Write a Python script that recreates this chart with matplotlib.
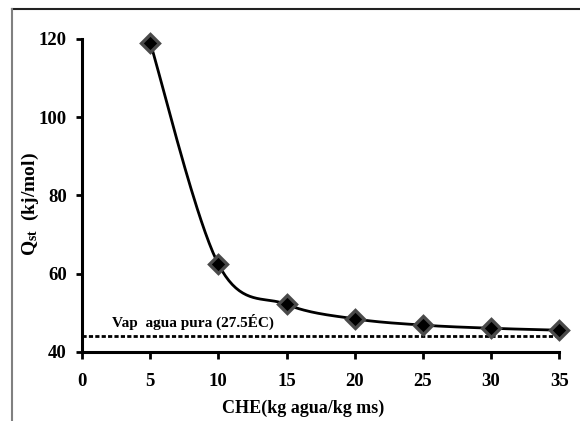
import matplotlib
matplotlib.use("Agg")
import matplotlib.pyplot as plt
from matplotlib.lines import Line2D
import numpy as np

# isosteric heat vs equilibrium moisture content
che = [5, 10, 15, 20, 25, 30, 35]
qst = [119.1, 62.4, 52.1, 48.4, 46.8, 46.0, 45.5]
vap_agua = 44.1  # pure water vaporization heat (27.5 C)

x_ticks = [0, 5, 10, 15, 20, 25, 30, 35]
y_ticks = [40, 60, 80, 100, 120]

plt.rcParams['font.family'] = 'Liberation Serif'
plt.rcParams['font.weight'] = 'bold'
plt.rcParams['mathtext.fontset'] = 'custom'
plt.rcParams['mathtext.rm'] = 'Liberation Serif:bold'
plt.rcParams['mathtext.it'] = 'Liberation Serif:bold'
plt.rcParams['mathtext.bf'] = 'Liberation Serif:bold'


def smooth_curve(xs, ys, sx, sy, n=40):
    # bezier smoothing through the points (control points at 1/6 of neighbour span)
    p = np.column_stack([np.array(xs) * sx, np.array(ys) * sy])
    out = []
    for i in range(len(p) - 1):
        p0 = p[max(i - 1, 0)]
        p1 = p[i]
        p2 = p[i + 1]
        p3 = p[min(i + 2, len(p) - 1)]
        c1 = p1 + (p2 - p0) / 6.0
        c2 = p2 - (p3 - p1) / 6.0
        t = np.linspace(0, 1, n)[:, None]
        seg = ((1 - t) ** 3) * p1 + 3 * ((1 - t) ** 2) * t * c1 + 3 * (1 - t) * t ** 2 * c2 + t ** 3 * p2
        out.append(seg)
    out = np.vstack(out)
    return out[:, 0] / sx, out[:, 1] / sy


fig = plt.figure(figsize=(5.8, 4.21), dpi=100)
ax = fig.add_axes([0.1414, 0.1646, 0.8228, 0.7428])

# frame lines around the figure (top and left only)
fig.add_artist(Line2D([12 / 580, 1.0], [1 - 9 / 421, 1 - 9 / 421], color='#222222', lw=1.5))
fig.add_artist(Line2D([12 / 580, 12 / 580], [0, 1 - 9 / 421], color='#808080', lw=1.5))

sx = 477 / 35.0
sy = 312.7 / 80.0
cx, cy = smooth_curve(che, qst, sx, sy)
ax.plot(cx, cy, color='black', lw=2, zorder=3, clip_on=False)
ax.plot(che, qst, linestyle='none', marker='D', markersize=9,
        markerfacecolor='black', markeredgecolor='#4a4a4a', markeredgewidth=2.4,
        zorder=4, clip_on=False)

ax.axhline(vap_agua, color='black', lw=2, dashes=(1.5, 0.8), zorder=2)
ax.text(2.2, 47.7, 'Vap  agua pura (27.5ÉC)', fontsize=11, fontweight='bold',
        va='center', ha='left')

ax.set_xlim(0, 35)
ax.set_ylim(40, 120)
ax.set_xticks(x_ticks)
ax.set_yticks(y_ticks)

for side in ['top', 'right']:
    ax.spines[side].set_visible(False)
for side in ['left', 'bottom']:
    ax.spines[side].set_linewidth(2.2)

ax.tick_params(axis='y', direction='out', length=4, width=2, pad=7, labelsize=13.5)
ax.tick_params(axis='x', direction='out', length=5, width=2, pad=10, labelsize=13.5)

ax.set_xlabel('CHE(kg agua/kg ms)', fontsize=13, fontweight='bold')
ax.xaxis.set_label_coords(0.463, -0.154)
ax.set_ylabel(r'Q$_{\mathrm{st}}$  (kj/mol)', fontsize=14, fontweight='bold')
ax.yaxis.set_label_coords(-0.086, 0.472)

plt.savefig('out.png', dpi=100)
